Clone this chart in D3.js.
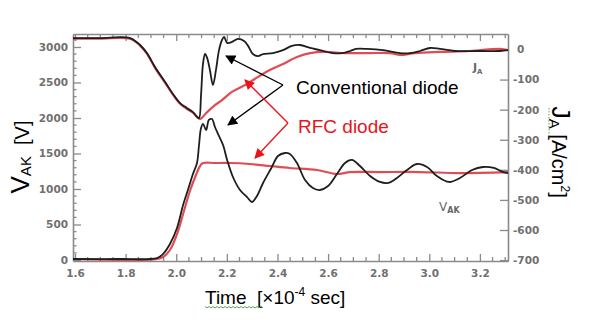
<!DOCTYPE html>
<html><head><meta charset="utf-8">
<script src="https://cdn.jsdelivr.net/npm/d3@7"></script>
<style>body{margin:0;background:#fff}svg{display:block}</style>
</head><body><svg id="c" width="590" height="323"></svg>
<script>
// ---- data ----
const xTicks = [1.6, 1.8, 2.0, 2.2, 2.4, 2.6, 2.8, 3.0, 3.2];
const vTicks = [0, 500, 1000, 1500, 2000, 2500, 3000];
const jTicks = [0, -100, -200, -300, -400, -500, -600, -700];

// J_A conventional (black), A/cm2
const tJConv = [1.592,1.699,1.817,1.857,1.884,1.916,1.956,1.987,2.015,2.043,2.066,2.082,2.090,2.098,2.106,2.114,2.122,2.133,2.145,2.157,2.169,2.181,2.189,2.201,2.220,2.244,2.268,2.284,2.303,2.323,2.343,2.382,2.422,2.457,2.489,2.529,2.568,2.619,2.655,2.687,2.710,2.754,2.817,2.884,2.924,2.963,3.003,3.042,3.101,3.200,3.279,3.311];
const jConv  = [38,38,38,15,-12,-58,-108,-148,-178,-195,-208,-224,-228,-151,-45,-15,-28,-68,-118,-68,-2,32,42,22,25,35,28,12,-15,-22,-15,-12,-2,12,15,5,-2,-12,-12,-5,2,2,-2,-12,-12,-5,5,2,-5,-5,-5,-2];

// J_A RFC (red)
const tJRfc = [1.592,1.699,1.817,1.857,1.884,1.916,1.956,1.987,2.015,2.043,2.066,2.082,2.094,2.122,2.153,2.181,2.220,2.272,2.323,2.370,2.422,2.477,2.529,2.588,2.667,2.766,2.845,2.884,2.943,3.042,3.161,3.279,3.311];
const jRfc  = [36,36,36,13,-14,-61,-111,-150,-180,-198,-210,-224,-231,-208,-185,-168,-141,-118,-91,-68,-48,-25,-12,-8,-12,-12,-12,-18,-12,-8,-5,2,-2];

// V_AK conventional (black), V
const tVConv = [1.592,1.778,1.924,1.948,1.975,2.003,2.027,2.046,2.066,2.082,2.090,2.098,2.106,2.118,2.129,2.141,2.153,2.165,2.185,2.201,2.224,2.252,2.280,2.299,2.319,2.343,2.378,2.402,2.430,2.449,2.477,2.509,2.540,2.568,2.600,2.635,2.667,2.694,2.726,2.766,2.805,2.837,2.872,2.912,2.951,2.991,3.030,3.078,3.121,3.169,3.212,3.255,3.291,3.311];
const vConv  = [14,14,28,85,225,451,775,986,1211,1366,1620,1859,1916,1831,1972,1986,1873,1775,1620,1409,1169,986,887,817,901,1085,1310,1465,1507,1493,1366,1127,1014,986,1042,1211,1366,1409,1324,1183,1099,1085,1155,1268,1352,1310,1183,1099,1155,1268,1310,1296,1239,1225];

// V_AK RFC (red)
const tVRfc = [1.592,1.924,1.948,1.975,2.003,2.027,2.054,2.078,2.094,2.106,2.153,2.212,2.291,2.370,2.449,2.556,2.635,2.687,2.805,2.963,3.121,3.311];
const vRfc  = [14,14,42,141,366,648,972,1197,1324,1366,1366,1366,1352,1324,1296,1268,1211,1239,1239,1239,1225,1239];

// ---- layout ----
const L = 73, R = 508, T = 34, B = 261;
const svg = d3.select("#c");
const x  = d3.scaleLinear().domain([1.592, 3.311]).range([L, R]);
const yV = d3.scaleLinear().domain([-14, 3183]).range([B, T]);
const yJ = d3.scaleLinear().domain([-703, 51.5]).range([B, T]);

const axisCol = "#8a8a8a", labCol = "#707070";
const tickFont = "'DejaVu Sans', Verdana, sans-serif";

function styleAxis(g) {
  g.selectAll("path.domain").attr("stroke", axisCol).attr("stroke-width", 1.6);
  g.selectAll(".tick line").attr("stroke", axisCol).attr("stroke-width", 1.3);
  g.selectAll("text").attr("fill", labCol).style("font-family", tickFont).style("font-size", "10.5px").style("font-weight", "bold");
}

// minor tick values
const xMinor = d3.range(1.6, 3.31, 0.05).filter(v => Math.abs(Math.round(v / 0.2) * 0.2 - v) > 1e-6);
const vMinor = d3.range(0, 3150, 100).filter(v => v % 500 !== 0);

// bottom axis
const gB = svg.append("g").attr("transform", `translate(0,${B})`)
  .call(d3.axisBottom(x).tickValues(xTicks).tickFormat(d3.format(".1f")).tickSizeInner(-7).tickSizeOuter(0).tickPadding(9));
gB.selectAll(".minor").data(xMinor).enter().append("line")
  .attr("x1", d => x(d)).attr("x2", d => x(d)).attr("y1", 0).attr("y2", -4);
styleAxis(gB);
gB.selectAll("line").attr("stroke", axisCol).attr("stroke-width", 1.3);

// top axis
const gT = svg.append("g").attr("transform", `translate(0,${T})`)
  .call(d3.axisTop(x).tickValues(xTicks).tickFormat("").tickSizeInner(-7).tickSizeOuter(0));
gT.selectAll(".minor").data(xMinor).enter().append("line")
  .attr("x1", d => x(d)).attr("x2", d => x(d)).attr("y1", 0).attr("y2", 4);
styleAxis(gT);
gT.selectAll("line").attr("stroke", axisCol).attr("stroke-width", 1.3);

// left axis
const gL = svg.append("g").attr("transform", `translate(${L},0)`)
  .call(d3.axisLeft(yV).tickValues(vTicks).tickFormat(d3.format("d")).tickSizeInner(-8).tickSizeOuter(0).tickPadding(5));
gL.selectAll(".minor").data(vMinor).enter().append("line")
  .attr("x1", 0).attr("x2", 3.5).attr("y1", d => yV(d)).attr("y2", d => yV(d));
styleAxis(gL);
gL.selectAll("line").attr("stroke", axisCol).attr("stroke-width", 1.3);

// right axis
const gR = svg.append("g").attr("transform", `translate(${R},0)`)
  .call(d3.axisRight(yJ).tickValues(jTicks).tickFormat(d => d === 0 ? "0" : "-" + Math.abs(d)).tickSizeInner(-8).tickSizeOuter(0).tickPadding(5));
styleAxis(gR);
gR.selectAll(".tick text").attr("dx", d => d === 0 ? 4 : 0);

// ---- curves ----
const lineJ = d3.line().x(d => x(d[0])).y(d => yJ(d[1])).curve(d3.curveCatmullRom.alpha(0.5));
const lineV = d3.line().x(d => x(d[0])).y(d => yV(d[1])).curve(d3.curveCatmullRom.alpha(0.5));
const red = "#dc3a40", blk = "#1e1e1e";

svg.append("path").datum(d3.zip(tJRfc, jRfc)).attr("d", lineJ).attr("fill", "none").attr("stroke", red).attr("stroke-width", 2.2).attr("stroke-opacity", 0.9);
svg.append("path").datum(d3.zip(tVRfc, vRfc)).attr("d", lineV).attr("fill", "none").attr("stroke", red).attr("stroke-width", 2.2).attr("stroke-opacity", 0.9);
svg.append("path").datum(d3.zip(tJConv, jConv)).attr("d", lineJ).attr("fill", "none").attr("stroke", blk).attr("stroke-width", 1.8);
svg.append("path").datum(d3.zip(tVConv, vConv)).attr("d", lineV).attr("fill", "none").attr("stroke", blk).attr("stroke-width", 1.8);

// ---- arrows & annotations ----
const defs = svg.append("defs");
[["ab", "#000"], ["ar", "#e8141b"]].forEach(([id, c]) => {
  defs.append("marker").attr("id", id).attr("viewBox", "0 0 10 10").attr("refX", 9).attr("refY", 5)
    .attr("markerWidth", 11).attr("markerHeight", 10).attr("markerUnits", "userSpaceOnUse").attr("orient", "auto")
    .append("path").attr("d", "M0,0 L10,5 L0,10 Z").attr("fill", c);
});
const arrows = [
  [283, 85, 226, 56, "#000", "ab"], [283, 85, 228, 125, "#000", "ab"],
  [288, 123, 245, 80, "#e8141b", "ar"], [288, 123, 255, 158, "#e8141b", "ar"]
];
arrows.forEach(a => svg.append("line").attr("x1", a[0]).attr("y1", a[1]).attr("x2", a[2]).attr("y2", a[3])
  .attr("stroke", a[4]).attr("stroke-width", 1.3).attr("marker-end", `url(#${a[5]})`));

const sans = "'Liberation Sans', Arial, sans-serif";
svg.append("text").attr("x", 296).attr("y", 94).attr("font-family", sans).attr("font-size", 19).attr("fill", "#000").text("Conventional diode");
svg.append("text").attr("x", 298).attr("y", 133).attr("font-family", sans).attr("font-size", 19).attr("fill", "#e8141b").text("RFC diode");

// small curve labels
const jl = svg.append("text").attr("x", 473).attr("y", 71).attr("font-family", tickFont).attr("font-size", 11).attr("fill", "#666").attr("font-weight", "bold");
jl.append("tspan").text("J");
jl.append("tspan").attr("font-size", 7).attr("dy", 3).text("A");
const vl = svg.append("text").attr("x", 439).attr("y", 211).attr("font-family", tickFont).attr("font-size", 12).attr("fill", "#666");
vl.append("tspan").text("V");
vl.append("tspan").attr("font-size", 8).attr("dy", 2).attr("font-weight", "bold").text("AK");

// ---- axis titles ----
const lt = svg.append("text").attr("transform", "translate(29,157) rotate(-90)").attr("text-anchor", "middle")
  .attr("font-family", sans).attr("font-size", 20).attr("fill", "#000");
lt.append("tspan").attr("font-size", 26).text("V");
lt.append("tspan").attr("font-size", 15).attr("dy", 2).text("AK");
lt.append("tspan").attr("dy", -2).attr("xml:space", "preserve").text("\u00a0\u00a0[V]");

const rt = svg.append("text").attr("transform", "translate(552,152) rotate(90)").attr("text-anchor", "middle")
  .attr("font-family", sans).attr("font-size", 20).attr("fill", "#000");
rt.append("tspan").attr("font-size", 25).text("J");
rt.append("tspan").attr("font-size", 15).attr("dy", 3).text("A");
rt.append("tspan").attr("dy", -3).text("\u00a0[A/cm");
rt.append("tspan").attr("font-size", 12).attr("dy", -9).text("2");
rt.append("tspan").attr("dy", 9).text("]");
// spell-check style underline on right title
svg.append("line").attr("x1", 549).attr("x2", 549).attr("y1", 108).attr("y2", 137)
  .attr("stroke", "#5aa65a").attr("stroke-width", 1).attr("stroke-dasharray", "1.5,1.5");

const bt = svg.append("text").attr("x", 205).attr("y", 304).attr("font-family", sans).attr("font-size", 19).attr("fill", "#000");
bt.append("tspan").text("Time\u00a0\u00a0[\u00d710");
bt.append("tspan").attr("font-size", 12).attr("dy", -8).text("-4");
bt.append("tspan").attr("dy", 8).text("\u00a0sec]");
// wavy spell-check underline under "Time"
const wave = d3.range(205, 264, 2).map((px, i) => [px, 307 + (i % 2 ? 1 : -0.5)]);
svg.append("path").attr("d", d3.line()(wave)).attr("fill", "none").attr("stroke", "#5aa65a").attr("stroke-width", 1);
</script>
</body></html>
